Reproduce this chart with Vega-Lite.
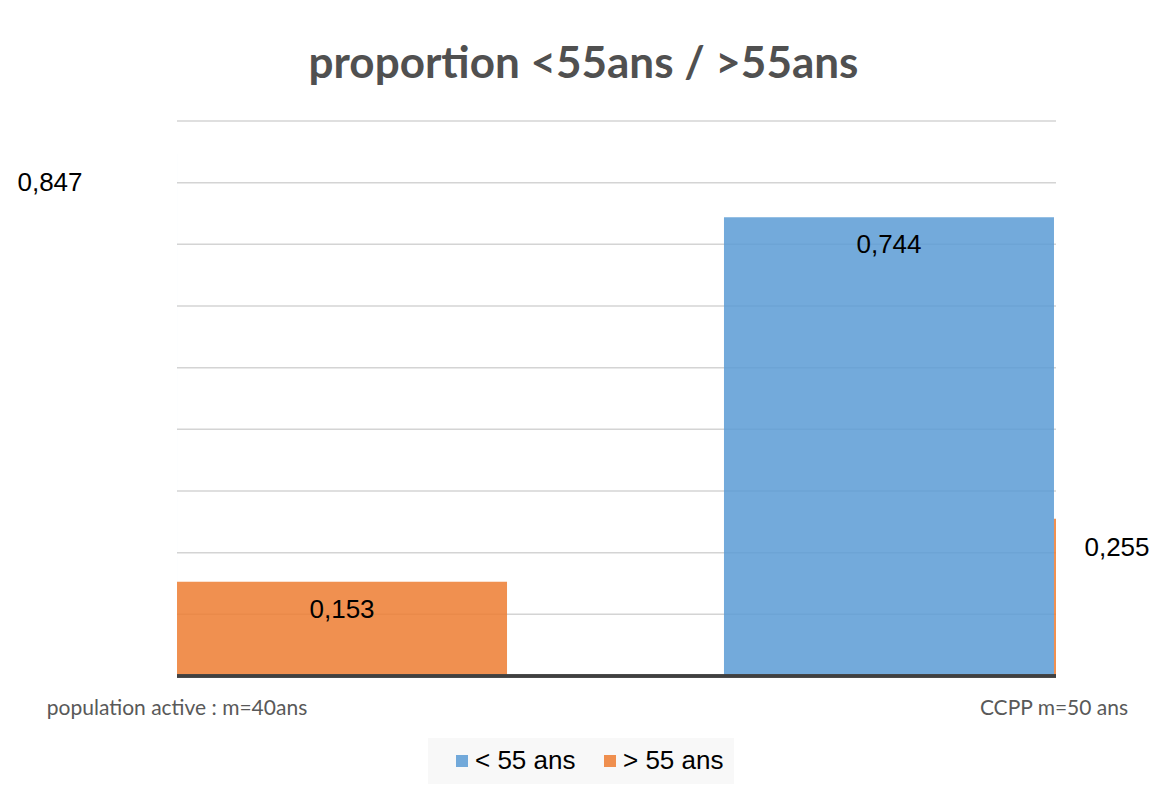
{
  "$schema": "https://vega.github.io/schema/vega-lite/v6.json",
  "autosize": "none",
  "width": 879,
  "height": 555,
  "padding": {"left": 177, "top": 121, "right": 96, "bottom": 118},
  "background": "white",
  "config": {
    "locale": {"number": {"decimal": ",", "thousands": " ", "grouping": [3], "currency": ["", " €"]}},
    "view": {"stroke": null}
  },
  "title": {
    "text": "proportion <55ans / >55ans",
    "font": "Lato",
    "fontSize": 44,
    "fontWeight": "bold",
    "color": "#505050",
    "anchor": "middle",
    "dx": -33,
    "offset": 33
  },
  "data": {
    "values": [
      {"categorie": "population active : m=40ans", "tranche": "< 55 ans", "proportion": 0.847},
      {"categorie": "population active : m=40ans", "tranche": "> 55 ans", "proportion": 0.153},
      {"categorie": "CCPP m=50 ans", "tranche": "< 55 ans", "proportion": 0.744},
      {"categorie": "CCPP m=50 ans", "tranche": "> 55 ans", "proportion": 0.255}
    ]
  },
  "encoding": {
    "x": {
      "field": "categorie",
      "type": "nominal",
      "scale": {
        "type": "band",
        "domain": ["population active : m=40ans", "CCPP m=50 ans"],
        "range": [-330, 1207],
        "paddingInner": 0.2474,
        "paddingOuter": 0
      },
      "axis": {
        "title": null,
        "labelAngle": 0,
        "ticks": false,
        "domain": false,
        "grid": false,
        "labelFont": "Lato",
        "labelFontSize": 21,
        "labelLimit": 500,
        "labelColor": "#595959",
        "labelPadding": 21
      }
    },
    "xOffset": {
      "field": "tranche",
      "type": "nominal",
      "scale": {"domain": ["< 55 ans", "> 55 ans"], "paddingInner": 0, "paddingOuter": 0}
    },
    "y": {
      "field": "proportion",
      "type": "quantitative",
      "scale": {"domain": [0, 0.9], "nice": false, "zero": true},
      "axis": null
    }
  },
  "layer": [
    {
      "data": {"values": [
        {"grille": 0.1}, {"grille": 0.2}, {"grille": 0.3}, {"grille": 0.4}, {"grille": 0.5},
        {"grille": 0.6}, {"grille": 0.7}, {"grille": 0.8}, {"grille": 0.9}
      ]},
      "mark": {"type": "rule", "color": "#d4d4d4", "strokeWidth": 1.5},
      "encoding": {"y": {"field": "grille", "type": "quantitative"}, "x": null, "xOffset": null}
    },
    {
      "mark": {"type": "bar", "clip": true, "opacity": 0.85},
      "encoding": {
        "color": {
          "field": "tranche",
          "type": "nominal",
          "scale": {"domain": ["< 55 ans", "> 55 ans"], "range": ["#5B9BD5", "#ED7D31"]},
          "legend": {
            "title": null,
            "orient": "none",
            "legendX": 251,
            "legendY": 617,
            "direction": "horizontal",
            "symbolType": "square",
            "symbolSize": 144,
            "symbolStrokeWidth": 0,
            "labelFont": "Liberation Sans",
            "labelFontSize": 26,
            "labelColor": "#000000",
            "fillColor": "#f8f8f8",
            "padding": 10,
            "symbolOffset": 11,
            "columnPadding": 10,
            "labelOffset": 0
          }
        }
      }
    },
    {
      "mark": {"type": "rule", "color": "#404040", "strokeWidth": 3},
      "encoding": {"y": {"datum": 0}, "x": null, "xOffset": null}
    },
    {
      "transform": [{"filter": "(datum.categorie === 'population active : m=40ans' && datum.tranche === '> 55 ans') || (datum.categorie === 'CCPP m=50 ans' && datum.tranche === '< 55 ans')"}],
      "mark": {"type": "text", "font": "Liberation Sans", "fontSize": 26, "color": "#000000", "baseline": "middle", "dy": 28},
      "encoding": {"text": {"field": "proportion", "type": "quantitative", "format": ".3f"}}
    },
    {
      "transform": [{"filter": "datum.categorie === 'population active : m=40ans' && datum.tranche === '< 55 ans'"}],
      "mark": {"type": "text", "font": "Liberation Sans", "fontSize": 26, "color": "#000000", "baseline": "middle", "dy": 29, "dx": 38},
      "encoding": {"text": {"field": "proportion", "type": "quantitative", "format": ".3f"}}
    },
    {
      "transform": [{"filter": "datum.categorie === 'CCPP m=50 ans' && datum.tranche === '> 55 ans'"}],
      "mark": {"type": "text", "font": "Liberation Sans", "fontSize": 26, "color": "#000000", "baseline": "middle", "dy": 29, "dx": -102},
      "encoding": {"text": {"field": "proportion", "type": "quantitative", "format": ".3f"}}
    }
  ]
}
